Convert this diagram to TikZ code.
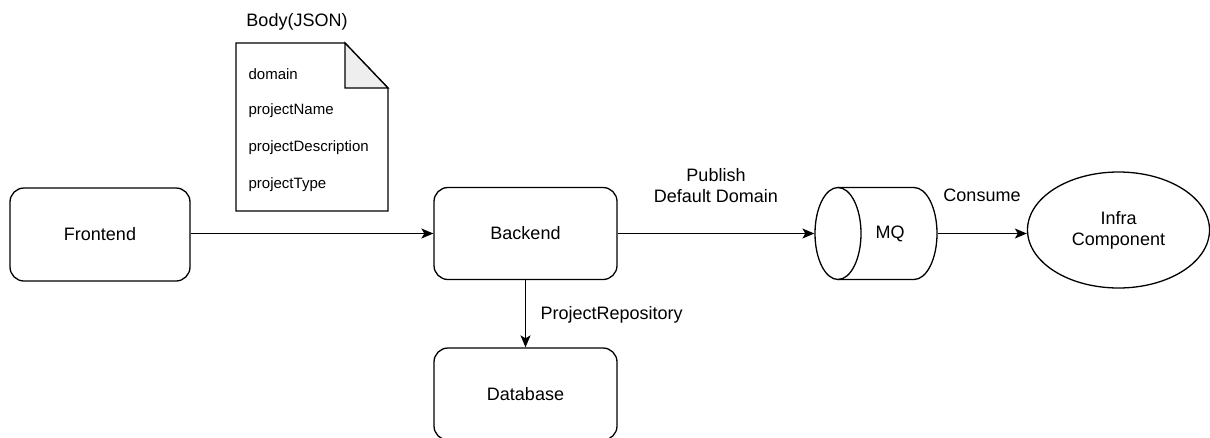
\documentclass[tikz,border=0pt]{standalone}
\usepackage{fontspec}
\setmainfont{Liberation Sans}
\usetikzlibrary{arrows.meta,shapes.geometric}
\definecolor{ink}{HTML}{000000}
\definecolor{fold}{HTML}{EEEEEE}
\tikzset{
  box/.style={draw=ink, rounded corners=14pt, minimum width=183pt, minimum height=92pt, font=\fontsize{18}{21}\selectfont, align=center},
  lbl/.style={font=\fontsize{18}{21}\selectfont, align=center, inner sep=0pt},
  item/.style={font=\fontsize{15}{18}\selectfont, anchor=west, inner sep=0pt},
  conn/.style={draw=ink, -{Stealth[length=12pt,width=10pt,inset=3pt]}},
}
\begin{document}
\begin{tikzpicture}[x=1pt,y=-1pt,line width=1.3pt]
\useasboundingbox (0,0) rectangle (1210,437);
% boxes
\node[box, minimum width=180pt, minimum height=93pt] (fe) at (100,234.5) {Frontend};
\node[box] (be) at (525.5,233.5) {Backend};
\node[box] (db) at (525.5,394) {Database};
% document
\draw[ink] (236,43) -- (345,43) -- (388,88) -- (388,211) -- (236,211) -- cycle;
\filldraw[draw=ink, fill=fold, line join=miter] (345,43) -- (345,88) -- (388,88) -- cycle;
\node[lbl] (bodyl) at (297,22) {Body(JSON)};
\node[item] (i1) at (248,74) {domain};
\node[item] (i2) at (248,111) {projectName};
\node[item] (i3) at (248,148) {projectDescription};
\node[item] (i4) at (248,185) {projectType};
% MQ cylinder
\draw[ink] (838,233.5) ellipse [x radius=23, y radius=46];
\draw[ink] (838,187.5) -- (914,187.5) arc[start angle=-90, end angle=90, x radius=23, y radius=46] -- (838,279.5);
\node[minimum width=122pt, minimum height=92pt, inner sep=0pt] (mq) at (876,233.5) {};
\node[lbl] (mqt) at (890,233.5) {MQ};
% Infra
\node[draw=ink, ellipse, minimum width=182pt, minimum height=116pt, inner sep=0pt, font=\fontsize{18}{21}\selectfont, align=center] (inf) at (1118.5,230) {Infra\\Component};
% connectors
\draw[conn] (fe.east |- be.west) -- (be.west);
\draw[conn] (be.east) -- (mq.west);
\draw[conn] (mq.east) -- (mq.east -| inf.west);
\draw[conn] (be.south) -- (db.north);
% connector labels
\node[lbl] (pub) at (716,186) {Publish\\Default Domain};
\node[lbl] (con) at (982,195) {Consume};
\node[lbl, anchor=west] (repo) at (540,315) {ProjectRepository};
\end{tikzpicture}
\end{document}
